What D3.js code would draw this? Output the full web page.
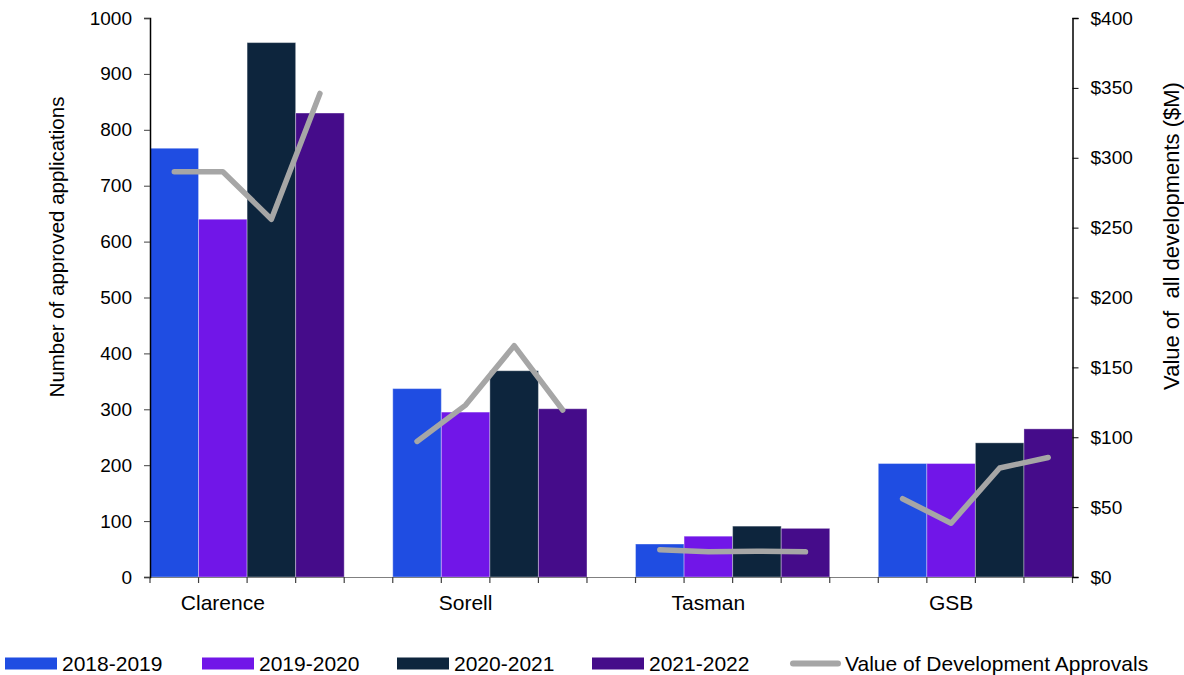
<!DOCTYPE html>
<html>
<head>
<meta charset="utf-8">
<script src="https://cdn.jsdelivr.net/npm/d3@7"></script>
<style>
  html, body { margin: 0; padding: 0; background: #fff; }
  svg { display: block; font-family: "Liberation Sans", Arial, sans-serif; }
</style>
</head>
<body>
<svg id="chart" width="1184" height="675"></svg>
<script>
// Approved development applications by council area, 2018-19 to 2021-22
const categories = ["Clarence", "Sorell", "Tasman", "GSB"];
const seriesNames = ["2018-2019", "2019-2020", "2020-2021", "2021-2022"];
const apps2018 = [767, 337, 59, 203];
const apps2019 = [640, 295, 73, 203];
const apps2020 = [956, 369, 91, 240];
const apps2021 = [830, 301, 87, 265];
// Value of development approvals ($M), one point per year within each area
const valueClarence = [290, 290, 256, 346];
const valueSorell = [97, 123, 165.5, 119.5];
const valueTasman = [19.5, 18, 18.5, 18];
const valueGSB = [56, 38.5, 78, 85.5];
const leftTicks = [0, 100, 200, 300, 400, 500, 600, 700, 800, 900, 1000];
const rightTicks = [0, 50, 100, 150, 200, 250, 300, 350, 400];
const lineName = "Value of Development Approvals";

const colors = ["#1f4de2", "#7116e8", "#0d253d", "#450c8a"];
const lineColor = "#a6a6a6";

const appSeries = [apps2018, apps2019, apps2020, apps2021];
const valueSeries = [valueClarence, valueSorell, valueTasman, valueGSB];

const svg = d3.select("#chart");
const plot = { left: 150, right: 1072.5, top: 18, bottom: 577 };

const x0 = d3.scaleBand().domain(categories)
  .range([plot.left, plot.right]).paddingInner(0.2).paddingOuter(0);
const x1 = d3.scaleBand().domain(seriesNames)
  .range([0, x0.bandwidth()]).padding(0);
const yL = d3.scaleLinear().domain([0, 1000]).range([plot.bottom, plot.top]);
const yR = d3.scaleLinear().domain([0, 400]).range([plot.bottom, plot.top]);

// Bars
const groups = svg.append("g").selectAll("g")
  .data(categories).join("g")
  .attr("transform", c => `translate(${x0(c)},0)`);

groups.selectAll("rect")
  .data((c, ci) => seriesNames.map((s, si) => ({ s, si, v: appSeries[si][ci] })))
  .join("rect")
  .attr("x", d => x1(d.s))
  .attr("width", x1.bandwidth())
  .attr("y", d => yL(d.v))
  .attr("height", d => yL(0) - yL(d.v))
  .attr("fill", d => colors[d.si])
  .attr("stroke", "rgba(255,255,255,0.35)")
  .attr("stroke-width", 1);

// X axis baseline and tick marks at bar boundaries
svg.append("line")
  .attr("x1", plot.left).attr("x2", plot.right)
  .attr("y1", plot.bottom + 0.5).attr("y2", plot.bottom + 0.5)
  .attr("stroke", "#808080").attr("stroke-width", 1.2);

const tickXs = [];
categories.forEach(c => {
  for (let i = 0; i <= seriesNames.length; i++) tickXs.push(x0(c) + i * x1.step());
});
svg.append("g").selectAll("line").data(tickXs).join("line")
  .attr("x1", d => d).attr("x2", d => d)
  .attr("y1", plot.bottom).attr("y2", plot.bottom + 6)
  .attr("stroke", "#404040").attr("stroke-width", 1.2);

// Category labels
svg.append("g").selectAll("text").data(categories).join("text")
  .attr("x", c => x0(c) + x1.step() * 1.5)
  .attr("y", 610)
  .attr("text-anchor", "middle")
  .attr("font-size", 21)
  .attr("fill", "#000")
  .text(c => c);

// Left axis
const axL = svg.append("g").attr("transform", `translate(${plot.left},0)`)
  .call(d3.axisLeft(yL).tickValues(leftTicks).tickSize(6).tickPadding(12).tickFormat(d3.format("d")));
axL.select(".domain").attr("stroke", "#000").attr("stroke-width", 1.5);
axL.selectAll(".tick line").attr("stroke", "#404040");
axL.selectAll(".tick text").attr("font-size", 19).attr("fill", "#000")
  .attr("font-family", "Liberation Sans, Arial, sans-serif");

// Right axis
const axR = svg.append("g").attr("transform", `translate(${plot.right},0)`)
  .call(d3.axisRight(yR).tickValues(rightTicks).tickSize(6).tickPadding(12).tickFormat(d => "$" + d));
axR.select(".domain").attr("stroke", "#000").attr("stroke-width", 1.5);
axR.selectAll(".tick line").attr("stroke", "#000");
axR.selectAll(".tick text").attr("font-size", 19).attr("fill", "#000")
  .attr("font-family", "Liberation Sans, Arial, sans-serif");

// Axis titles
svg.append("text")
  .attr("transform", "translate(64,247) rotate(-90)")
  .attr("text-anchor", "middle")
  .attr("font-size", 20.5)
  .text("Number of approved applications");

svg.append("text")
  .attr("transform", "translate(1179,236) rotate(-90)")
  .attr("text-anchor", "middle")
  .attr("font-size", 22)
  .attr("xml:space", "preserve")
  .style("white-space", "pre")
  .text("Value of  all developments ($M)");

// Value line, one segment per area, points at bar centres
const line = d3.line()
  .x(d => d.x)
  .y(d => yR(d.v));

categories.forEach((c, ci) => {
  const pts = seriesNames.map((s, si) => ({
    x: x0(c) + x1(s) + x1.bandwidth() / 2,
    v: valueSeries[ci][si]
  }));
  svg.append("path")
    .datum(pts)
    .attr("d", line)
    .attr("fill", "none")
    .attr("stroke", lineColor)
    .attr("stroke-width", 5.5)
    .attr("stroke-linejoin", "round")
    .attr("stroke-linecap", "round");
});

// Legend
const legendItems = [
  { name: seriesNames[0], color: colors[0], x: 5, type: "rect" },
  { name: seriesNames[1], color: colors[1], x: 202, type: "rect" },
  { name: seriesNames[2], color: colors[2], x: 397, type: "rect" },
  { name: seriesNames[3], color: colors[3], x: 592, type: "rect" },
  { name: lineName, color: lineColor, x: 790, type: "line" }
];
const lg = svg.append("g").selectAll("g").data(legendItems).join("g")
  .attr("transform", d => `translate(${d.x},0)`);
lg.filter(d => d.type === "rect").append("rect")
  .attr("x", 0).attr("y", 657.5).attr("width", 52).attr("height", 12)
  .attr("fill", d => d.color);
lg.filter(d => d.type === "line").append("line")
  .attr("x1", 3).attr("x2", 48).attr("y1", 663.5).attr("y2", 663.5)
  .attr("stroke", d => d.color).attr("stroke-width", 6).attr("stroke-linecap", "round");
lg.append("text")
  .attr("x", d => d.type === "line" ? 55 : 57)
  .attr("y", 671)
  .attr("font-size", 21)
  .text(d => d.name);
</script>
</body>
</html>
